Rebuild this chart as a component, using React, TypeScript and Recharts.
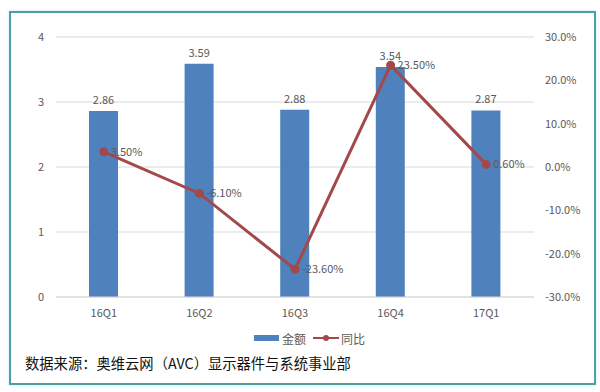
import React from 'react';
import { ComposedChart, Bar, Line, XAxis, YAxis, CartesianGrid, LabelList } from 'recharts';

const categories = ['16Q1', '16Q2', '16Q3', '16Q4', '17Q1'];
const amounts = [2.86, 3.59, 2.88, 3.54, 2.87];
const yoy = [3.5, -6.1, -23.6, 23.5, 0.6];
const leftTicks = [0, 1, 2, 3, 4];
const rightTicks = [-30, -20, -10, 0, 10, 20, 30];

const data = categories.map((c, i) => ({ name: c, amount: amounts[i], yoy: yoy[i] }));

const FONT = '"Microsoft YaHei", "Noto Sans CJK SC", "Noto Sans", sans-serif';
const BLUE = '#4f81bd';
const RED = '#a3484b';
const GRAY = '#595959';

export default function App() {
  return (
    <div style={{ position: 'absolute', left: 0, top: 0, width: 600, height: 392, background: '#fff', fontFamily: FONT }}>
      <div style={{ position: 'absolute', left: 9, top: 11, width: 583, height: 370, border: '2px solid #4f9ea0', boxShadow: '0 0 3px #bfeff2', boxSizing: 'content-box' }} />
      <ComposedChart
        width={600}
        height={392}
        data={data}
        margin={{ top: 37, right: 6, left: 26, bottom: 65 }}
        style={{ position: 'absolute', left: 0, top: 0 }}
      >
        <CartesianGrid vertical={false} stroke="#d9d9d9" yAxisId="left" />
        <XAxis
          dataKey="name"
          axisLine={{ stroke: '#d9d9d9' }}
          tickLine={false}
          tick={{ fill: GRAY, fontSize: 11, fontFamily: FONT }}
          tickMargin={6}
          height={30}
        />
        <YAxis
          yAxisId="left"
          domain={[0, 4]}
          ticks={leftTicks}
          axisLine={false}
          tickLine={false}
          width={30}
          tickMargin={6}
          tick={{ fill: GRAY, fontSize: 11, fontFamily: FONT }}
        />
        <YAxis
          yAxisId="right"
          orientation="right"
          domain={[-30, 30]}
          ticks={rightTicks}
          axisLine={false}
          tickLine={false}
          width={60}
          tickMargin={5}
          tickFormatter={(v: number) => `${v.toFixed(1)}%`}
          tick={{ fill: GRAY, fontSize: 11, fontFamily: FONT }}
        />
        <Bar yAxisId="left" dataKey="amount" fill={BLUE} barSize={29} isAnimationActive={false}>
          <LabelList dataKey="amount" position="top" offset={7} fill={GRAY} fontSize={11} fontFamily={FONT} formatter={(v: number) => v.toFixed(2)} />
        </Bar>
        <Line
          yAxisId="right"
          dataKey="yoy"
          stroke={RED}
          strokeWidth={3}
          dot={{ r: 3, fill: RED, stroke: RED }}
          isAnimationActive={false}
        >
          <LabelList dataKey="yoy" position="right" offset={7} fill={GRAY} fontSize={11} fontFamily={FONT} formatter={(v: number) => `${v.toFixed(2)}%`} />
        </Line>
      </ComposedChart>
      <div style={{ position: 'absolute', top: 330, left: 254, height: 16, display: 'flex', alignItems: 'center', fontSize: 12, color: GRAY }}>
        <div style={{ width: 25, height: 6, background: BLUE, marginRight: 3 }} />
        <span>金额</span>
        <svg width={26} height={10} style={{ marginLeft: 7, marginRight: 2 }}>
          <line x1={0} y1={5} x2={26} y2={5} stroke={RED} strokeWidth={2} />
          <circle cx={13} cy={5} r={3} fill={RED} />
        </svg>
        <span>同比</span>
      </div>
      <div style={{ position: 'absolute', top: 352, left: 25, fontSize: 14.3, color: '#111', whiteSpace: 'nowrap' }}>
        数据来源：奥维云网（AVC）显示器件与系统事业部
      </div>
    </div>
  );
}
